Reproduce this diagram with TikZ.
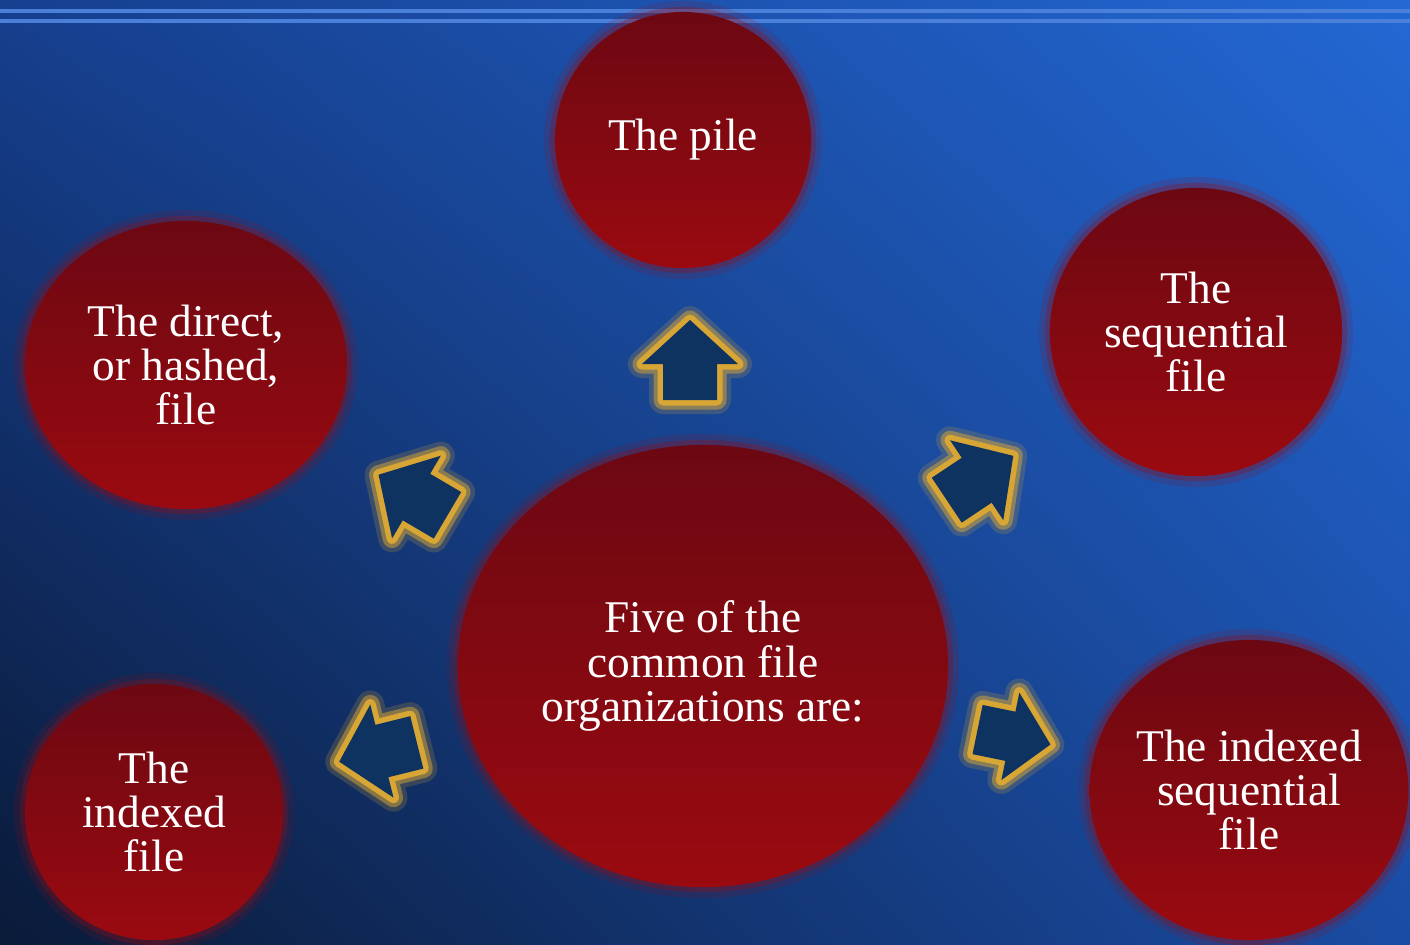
\documentclass[tikz,border=0pt]{standalone}
\usepackage{fontspec}
\setmainfont{Liberation Serif}
\usepackage{tikz}
\usetikzlibrary{shapes.geometric, shadings}

\definecolor{bgul}{HTML}{163F8E}
\definecolor{bgur}{HTML}{2368D4}
\definecolor{bgll}{HTML}{0A1A38}
\definecolor{bglr}{HTML}{1A4CA4}
\definecolor{bubtop}{HTML}{6C0812}
\definecolor{bubbot}{HTML}{9A0A10}
\definecolor{arrnavy}{HTML}{0F3360}
\definecolor{arrgold}{HTML}{D8A634}
\definecolor{linecol}{HTML}{4A80DA}

\newcommand{\bubfont}{\fontsize{12.9}{12.6}\selectfont}

\tikzset{
  bubble/.style={ellipse, inner sep=0pt, align=center, text=white, font=\bubfont,
    top color=bubtop, bottom color=bubbot,
    preaction={draw=bubbot, line width=0.22cm, draw opacity=.15},
    preaction={draw=bubbot, line width=0.1cm, draw opacity=.3}},
  topline/.style={draw=linecol, line width=0.035cm},
  fatarrow/.pic={
    \path[draw=arrgold, line width=0.28cm, draw opacity=.2, line join=round]
      (-40,-27) -- (-4,-27) -- (-4,-48) -- (40,0) -- (-4,48) -- (-4,27) -- (-40,27) -- cycle;
    \path[draw=arrgold, line width=0.19cm, draw opacity=.5, line join=round]
      (-40,-27) -- (-4,-27) -- (-4,-48) -- (40,0) -- (-4,48) -- (-4,27) -- (-40,27) -- cycle;
    \path[draw=arrgold, line width=0.11cm, line join=round]
      (-40,-27) -- (-4,-27) -- (-4,-48) -- (40,0) -- (-4,48) -- (-4,27) -- (-40,27) -- cycle;
    \path[fill=arrnavy]
      (-40,-27) -- (-4,-27) -- (-4,-48) -- (40,0) -- (-4,48) -- (-4,27) -- (-40,27) -- cycle;
  }
}

\begin{document}
\begin{tikzpicture}[x=0.01cm, y=-0.01cm]
\useasboundingbox (0,0) rectangle (1410,944);
\shade[upper left=bgul, upper right=bgur, lower left=bgll, lower right=bglr] (0,0) rectangle (1410,944);
\draw[topline] (0,11) -- (1410,11);
\draw[topline] (0,21) -- (1410,21);

\node[bubble, minimum width=2.56cm, minimum height=2.56cm] (pile) at (683,140) {The pile};
\node[bubble, minimum width=3.22cm, minimum height=2.88cm] (direct) at (186,365) {The direct,\\or hashed,\\file};
\node[bubble, minimum width=2.92cm, minimum height=2.88cm] (seq) at (1196,332) {The\\sequential\\file};
\node[bubble, minimum width=4.9cm, minimum height=4.42cm] (main) at (703,666) {Five of the\\common file\\organizations are:};
\node[bubble, minimum width=2.58cm, minimum height=2.56cm] (idx) at (154,812) {The\\indexed\\file};
\node[bubble, minimum width=3.12cm, minimum height=3.0cm] (idxseq) at (1249,790) {The indexed\\sequential\\file};

\pic[rotate=90] at (690,360) {fatarrow};
\pic[rotate=149.5] at (413,495) {fatarrow};
\pic[rotate=-166] at (378,752) {fatarrow};
\pic[rotate=33.7] at (980,478) {fatarrow};
\pic[rotate=-11.6, scale=0.93] at (1014,737) {fatarrow};
\end{tikzpicture}
\end{document}
